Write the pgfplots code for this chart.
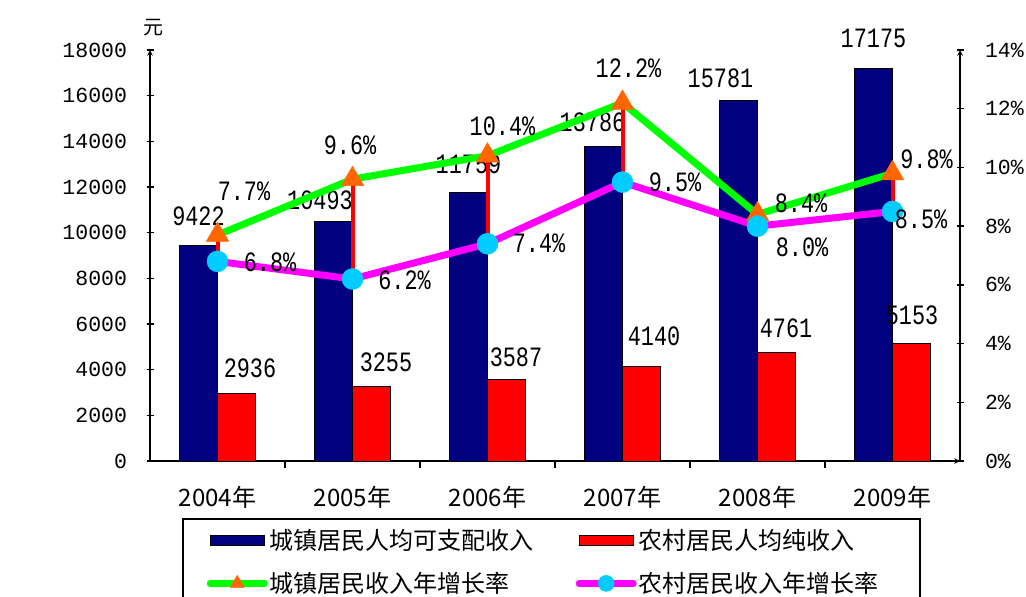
\documentclass[border=0pt]{standalone}
\usepackage{pgfplots}
\pgfplotsset{compat=1.18}
\usepackage{pgfplotstable}
\usepackage{fontspec}
\setmainfont{Liberation Mono}
\newfontfamily\cjk{Noto Sans CJK SC}
\newfontfamily\lab[FakeStretch=0.78]{Liberation Mono}

\definecolor{citybar}{RGB}{0,0,128}
\definecolor{ruralbar}{RGB}{255,0,0}
\definecolor{cityline}{RGB}{0,255,0}
\definecolor{ruralline}{RGB}{255,0,255}
\definecolor{citymark}{RGB}{255,102,0}
\definecolor{ruralmark}{RGB}{0,204,255}

% value, label offset from the point (px)
\pgfplotstableread{
x y dx dy
0 9422 0 30
1 10493 -13.5 21
2 11759 0 28.5
3 13786 -11 24
4 15781 -18 22
5 17175 0 30
}\citybars
\pgfplotstableread{
x y dx dy
0 2936 13.5 26
1 3255 14.5 24
2 3587 9.5 22
3 4140 12.5 30.5
4 4761 9.5 24
5 5153 0.5 28
}\ruralbars
\pgfplotstableread{
x y lab dx dy
0 7.7 7.7 26.5 44
1 9.6 9.6 -2.5 34
2 10.4 10.4 15 29
3 12.2 12.2 6 35
4 8.4 8.4 43.5 11
5 9.8 9.8 34 14
}\citygrowth
\pgfplotstableread{
x y lab dx dy
0 6.8 6.8 52.5 -0.5
1 6.2 6.2 52 -1
2 7.4 7.4 51.5 0
3 9.5 9.5 52.5 0
4 8.0 8.0 44.5 -21
5 8.5 8.5 28.5 -7.5
}\ruralgrowth

\pgfplotsset{
  lbl/.style={
    nodes near coords={#1},
    point meta=explicit symbolic,
    visualization depends on={\thisrow{dx} \as \dx},
    visualization depends on={\thisrow{dy} \as \dy},
    nodes near coords style={anchor=center, xshift=\dx bp, yshift=\dy bp, inner sep=0pt,
      text=black, font=\lab\fontsize{28bp}{30bp}\selectfont},
  },
  barleg/.style={legend image code/.code={\draw[##1] (0bp,-5bp) rectangle (54bp,5bp);}},
  lineleg/.style={legend image code/.code={%
    \draw[##1, mark=none] (0bp,0bp) -- (54bp,0bp);
    \draw[##1, only marks] plot coordinates {(27bp,0bp)};}},
  frame/.style={
    at={(150bp,-461bp)}, anchor=south west,
    scale only axis, width=810bp, height=411bp,
    xmin=-0.5, xmax=5.5, clip=false,
    axis line style={-, line width=1.5bp, black},
    tick align=inside, major tick length=7bp,
    tick style={line width=1.5bp, black},
    tick label style={font=\fontsize{21.5bp}{24bp}\selectfont},
  },
}

\begin{document}
\begin{tikzpicture}
\begin{axis}[frame,
  ymin=0, ymax=18000,
  axis x line=bottom, axis y line=left,
  ybar=0pt, bar width=38bp,
  xtick={0.5,1.5,2.5,3.5,4.5}, xticklabels={},
  extra x ticks={0,1,2,3,4,5},
  extra x tick labels={2004年,2005年,2006年,2007年,2008年,2009年},
  extra x tick style={major tick length=0pt,
    xticklabel style={font=\cjk\fontsize{24bp}{26bp}\selectfont, yshift=-22bp}},
  ytick={0,2000,...,18000},
  yticklabels={0,2000,4000,6000,8000,10000,12000,14000,16000,18000},
  scaled y ticks=false,
  yticklabel style={xshift=-16bp},
  legend columns=2,
  legend cell align=left,
  legend style={at={(axis description cs:0.0395,-0.1387)}, anchor=north west,
    draw=black, line width=1.5bp, inner xsep=24bp, inner ysep=9bp, row sep=17bp,
    nodes={inner xsep=2bp, inner ysep=2bp},
    font=\cjk\fontsize{24bp}{26bp}\selectfont,
    /tikz/every even column/.append style={column sep=40bp}},
]
% invisible first plot: takes the axis' first-point state
\addplot[forget plot, bar shift=0pt, draw=none, fill=none, lbl={}]
  table[x=x, y=y, meta=y] {\citybars};
\addplot[bar shift=-19bp, fill=citybar, draw=black, line width=1bp, lbl=\pgfplotspointmeta, barleg]
  table[x=x, y=y, meta=y] {\citybars};
\addplot[bar shift=19bp, fill=ruralbar, draw=black, line width=1bp, lbl=\pgfplotspointmeta, barleg]
  table[x=x, y=y, meta=y] {\ruralbars};
\addlegendimage{cityline, line width=7bp, line cap=round, mark=triangle*, mark size=8bp,
  mark options={fill=citymark, draw=citymark, line width=0.5bp}, lineleg}
\addlegendimage{ruralline, line width=7bp, line cap=round, mark=*, mark size=8bp,
  mark options={fill=ruralmark, draw=ruralmark, line width=0.5bp}, lineleg}
\legend{城镇居民人均可支配收入, \makebox[255bp][l]{农村居民人均纯收入}, 城镇居民收入年增长率, 农村居民收入年增长率}
\end{axis}

\begin{axis}[frame,
  ymin=0, ymax=14,
  axis x line=none, axis y line=right,
  ytick={0,2,...,14},
  yticklabels={0\%,2\%,4\%,6\%,8\%,10\%,12\%,14\%},
  yticklabel style={anchor=west, xshift=18bp},
  unbounded coords=jump,
]
\addplot[cityline, line width=7bp, line join=round, mark=triangle*, mark size=13bp,
  mark options={fill=citymark, draw=citymark, line width=0.5bp}, lbl=\pgfplotspointmeta\%]
  table[x=x, y=y, meta=lab] {\citygrowth};
\addplot[ruralline, line width=7bp, line join=round, mark=*, mark size=10.5bp,
  mark options={fill=ruralmark, draw=ruralmark, line width=0.5bp}, lbl=\pgfplotspointmeta\%]
  table[x=x, y=y, meta=lab] {\ruralgrowth};
\addplot[red, line width=4bp] coordinates {
  (0,7.7) (0,6.8) (0,nan)
  (1,9.6) (1,6.2) (1,nan)
  (2,10.4) (2,7.4) (2,nan)
  (3,12.2) (3,9.5) (3,nan)
  (4,8.4) (4,8.0) (4,nan)
  (5,9.8) (5,8.5)};
\end{axis}

\node[font=\cjk\fontsize{20bp}{22bp}\selectfont] at (153bp,-28bp) {元};
\pgfresetboundingbox
\useasboundingbox (0,0) rectangle (1026bp,-597bp);
\end{tikzpicture}
\end{document}
